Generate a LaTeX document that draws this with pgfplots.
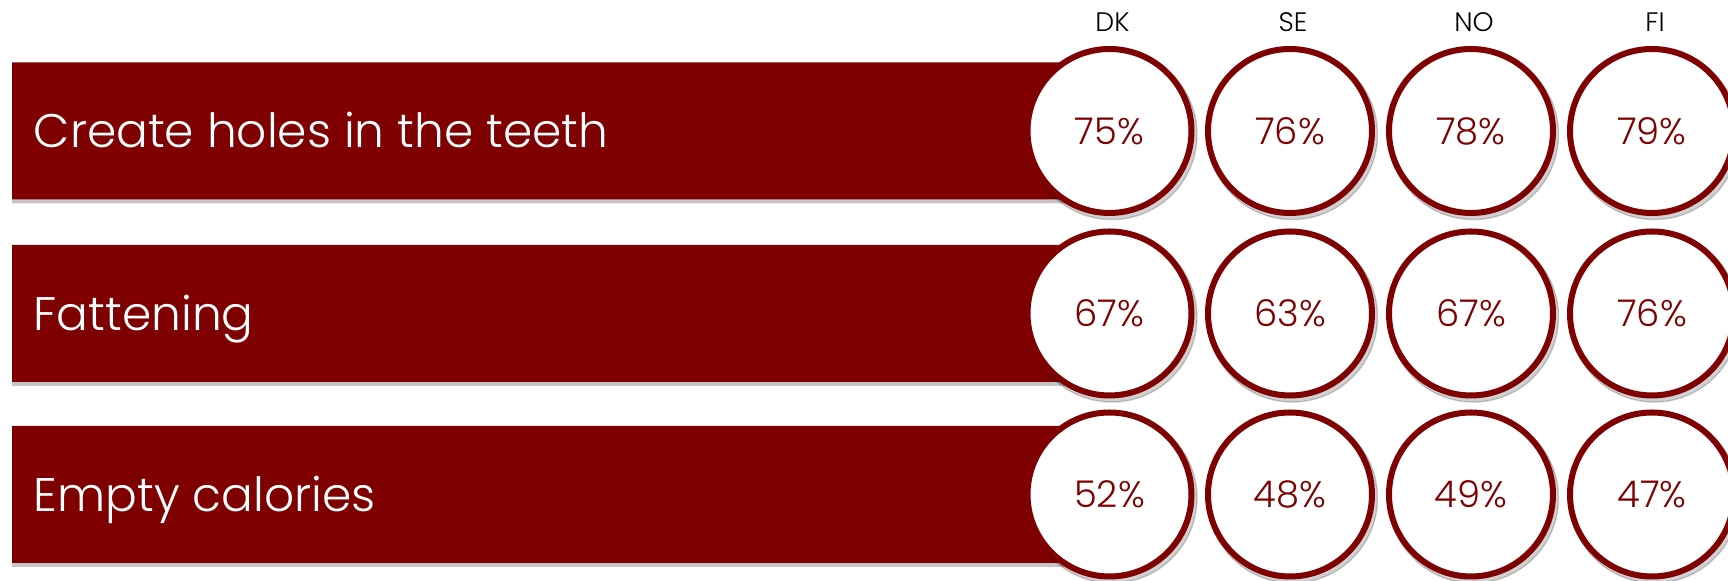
\documentclass[border=0pt]{standalone}
\usepackage{fontspec}
\setmainfont{Poppins}[UprightFont={* Light}]
\usepackage{pgfplots}
\pgfplotsset{compat=1.18}
\usepackage{pgfplotstable}
\definecolor{maroon}{RGB}{127,0,0}

\pgfplotstableread{
y xend xlab ylab label
131 1088 21 148 {Create holes in the teeth}
313.5 1088 21 330.5 {Fattening}
494.5 1088 21 511.5 {Empty calories}
}\bars

\pgfplotstableread{
x y val
1097.5 131 75
1278 131 76
1459 131 78
1640 131 79
1097.5 313.5 67
1278 313.5 63
1459 313.5 67
1640 313.5 76
1097.5 494.5 52
1278 494.5 48
1459 494.5 49
1640 494.5 47
}\circles

\pgfplotstableread{
x y label
1100.5 32 DK
1281 32 SE
1462 32 NO
1643 32 FI
}\countries

\begin{document}
\begin{tikzpicture}
\begin{axis}[
  scale only axis, width=17.28cm, height=5.81cm,
  xmin=-12, xmax=1716, ymin=0, ymax=581, y dir=reverse,
  hide axis, clip=false,
  /pgf/number format/assume math mode=true,
]
% bar shadows
\addplot[xbar, bar width=139, bar shift=3, fill=black, opacity=0.12, draw=none] table[x=xend,y=y]{\bars};
\addplot[xbar, bar width=137, bar shift=4, fill=black, opacity=0.12, draw=none] table[x=xend,y=y]{\bars};
% bars
\addplot[xbar, bar width=137, fill=maroon, draw=none] table[x=xend,y=y]{\bars};
% bar labels
\addplot[only marks, mark=none, point meta=explicit symbolic, nodes near coords,
  nodes near coords style={anchor=base west, inner sep=0pt, text=white, font=\fontsize{13.4}{16}\selectfont}]
  table[x=xlab, y=ylab, meta=label]{\bars};
% circle shadows
\addplot[only marks, mark=*, mark size=24.2pt,
  mark options={draw=none, fill=black, opacity=0.18, xshift=0.7pt, yshift=-1pt}]
  table[x=x,y=y]{\circles};
% circles
\addplot[only marks, mark=*, mark size=23.33pt,
  mark options={draw=maroon, fill=white, line width=1.71pt},
  point meta=explicit,
  nodes near coords={\pgfmathprintnumber{\pgfplotspointmeta}\%},
  nodes near coords style={anchor=center, inner sep=0pt, text=maroon, font=\fontsize{10.5}{12}\selectfont}]
  table[x=x,y=y,meta=val]{\circles};
% country labels
\addplot[only marks, mark=none, point meta=explicit symbolic, nodes near coords,
  nodes near coords style={anchor=base, inner sep=0pt, text=black, font=\fontsize{7.6}{9}\selectfont}]
  table[x=x,y=y,meta=label]{\countries};
\end{axis}
\pgfresetboundingbox
\path[use as bounding box] (current axis.south west) rectangle (current axis.north east);
\end{tikzpicture}
\end{document}
